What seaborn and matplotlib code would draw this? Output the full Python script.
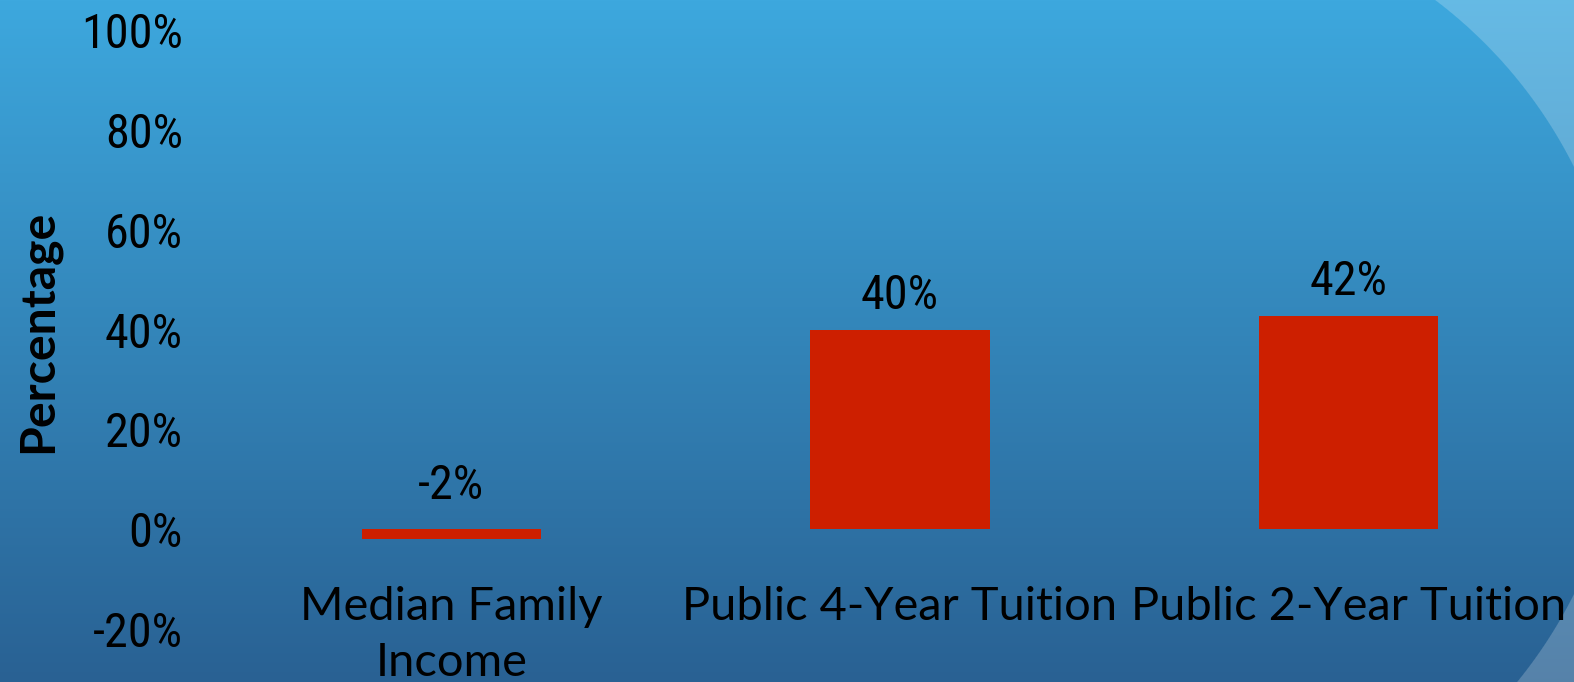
import numpy as np
import pandas as pd
import matplotlib
matplotlib.use("Agg")
import matplotlib.pyplot as plt
import seaborn as sns
from matplotlib import font_manager

# ---------------- data ----------------
categories = ["Median Family\nIncome", "Public 4-Year Tuition", "Public 2-Year Tuition"]
values = [-2.0, 39.9, 42.8]
value_labels = ["-2%", "40%", "42%"]
ytick_values = [-20, 0, 20, 40, 60, 80, 100]
ytick_labels = ["-20%", "0%", "20%", "40%", "60%", "80%", "100%"]
ylabel_text = "Percentage"

# ---------------- style ----------------
W, H = 1574, 682
sns.set_theme(style="white")
available = {f.name for f in font_manager.fontManager.ttflist}
text_font = "Lato" if "Lato" in available else "DejaVu Sans"
num_font = text_font
for cand in ["Liberation Sans Narrow", "Noto Sans Condensed", "Roboto Condensed", "Lato"]:
    if cand in available:
        num_font = cand
        break
plt.rcParams["font.family"] = [text_font, "DejaVu Sans"]

fig = plt.figure(figsize=(W / 100, H / 100), dpi=100)

# background: vertical blue gradient with a lighter sweep at the right edge
yy = np.arange(H)[:, None].astype(float)
xx = np.arange(W)[None, :].astype(float)
t = (yy / (H - 1))[..., None]
top = np.array([61, 168, 222]) / 255.0
bot = np.array([41, 97, 147]) / 255.0
img = top * (1 - t) + bot * t
img = np.broadcast_to(img, (H, W, 3)).copy()
cx, cy, r = 1147, 380, 477
d = np.sqrt((xx - cx) ** 2 + (yy - cy) ** 2) - r
a = 0.21 * np.clip(d + 0.5, 0, 1) * (xx > cx)
img = img + a[..., None] * (1 - img)
fig.figimage(img, xo=0, yo=0, origin="upper", zorder=-5)

renderer = fig.canvas.get_renderer()


def fit(s, family, target, weight="normal"):
    tt = fig.text(0, 0, s, fontsize=20, family=family, weight=weight)
    w = tt.get_window_extent(renderer).width
    tt.remove()
    return 20 * target / w


cat_fs = fit("Public 4-Year Tuition", text_font, 437)
num_fs = fit("60%", num_font, 78)
lab_fs = fit(ylabel_text, text_font, 243, weight="bold")

ax = fig.add_axes([227 / W, (H - 629) / H, 1346 / W, 599 / H])
ax.set_zorder(2)
ax.patch.set_alpha(0)

df = pd.DataFrame({"category": categories, "value": values})
sns.barplot(data=df, x="category", y="value", color="#CD1F00", saturation=1,
            width=0.4, linewidth=0, ax=ax)

ax.set_xlim(-0.5, 2.5)
ax.set_ylim(-20, 100)
for s in ax.spines.values():
    s.set_visible(False)
ax.spines["bottom"].set_position(("data", 0))
ax.set_xlabel("")
ax.set_ylabel("")
ax.set_yticks(ytick_values, ytick_labels)
ax.tick_params(axis="y", length=0, pad=31.7, labelsize=num_fs, labelcolor="black")
ax.tick_params(axis="x", length=0, pad=41, labelsize=cat_fs, labelcolor="black")
for lbl in ax.get_yticklabels():
    lbl.set_family([num_font, "DejaVu Sans"])
for lbl in ax.get_xticklabels():
    lbl.set_linespacing(1.42)
    lbl.set_multialignment("center")
ax.grid(False)

for i, (v, lab) in enumerate(zip(values, value_labels)):
    off = 15 if v >= 0 else 21.6
    ax.annotate(lab, xy=(i, max(v, 0)), xytext=(0, off), textcoords="offset points",
                ha="center", va="baseline", fontsize=num_fs, color="black",
                family=[num_font, "DejaVu Sans"])

fig.text(38 / W, (H - 331.5) / H, ylabel_text, rotation=90, ha="center", va="center",
         fontsize=lab_fs, fontweight="bold", color="black", family=[text_font, "DejaVu Sans"],
         zorder=3)

fig.savefig("out.png", dpi=100)
